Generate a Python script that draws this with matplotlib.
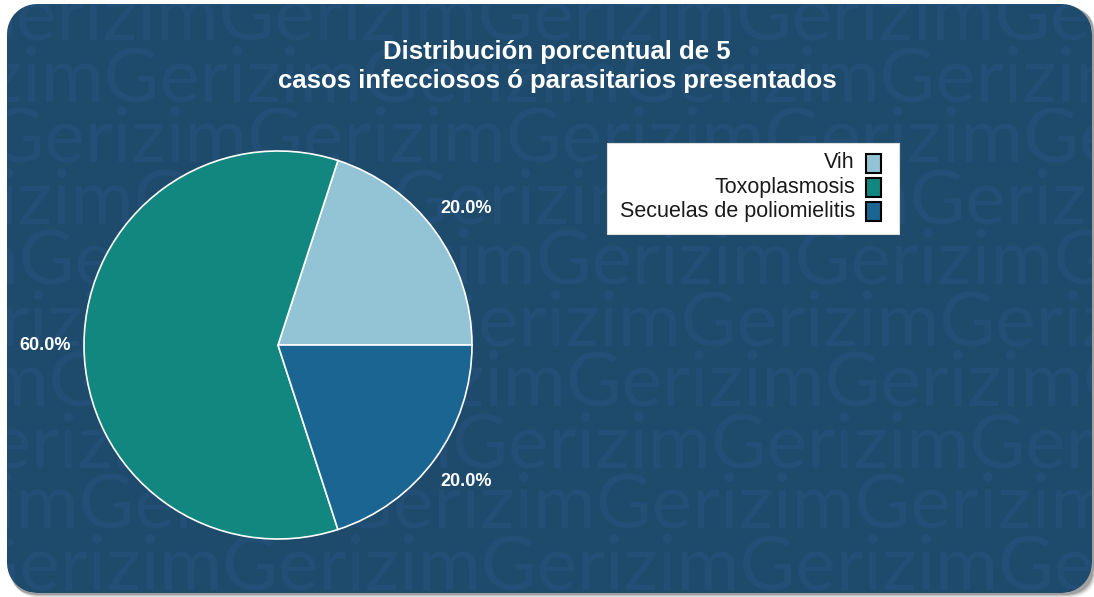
import matplotlib
matplotlib.use('Agg')
import matplotlib.pyplot as plt
import numpy as np
from matplotlib.patches import FancyBboxPatch, Rectangle, PathPatch
from matplotlib.path import Path

plt.rcParams['font.family'] = ['Liberation Sans', 'DejaVu Sans']

categories = ['Vih', 'Toxoplasmosis', 'Secuelas de poliomielitis']
values = [20.0, 60.0, 20.0]
colors = ['#93c4d6', '#12877f', '#1b6592']
title_lines = ['Distribución porcentual de 5',
               'casos infecciosos ó parasitarios presentados']
watermark = 'Gerizim'

W, H = 1094, 597
fig = plt.figure(figsize=(W / 100, H / 100), dpi=100)
fig.patch.set_facecolor('white')

bg = fig.add_axes([0, 0, 1, 1])
bg.set_xlim(0, W)
bg.set_ylim(H, 0)
bg.axis('off')

CX0, CY0, CW, CH, RAD = 7, 4, 1085, 589, 30


def rounded_rect_vertices(x0, y0, w, h, r, ccw=False):
    pts = []
    corners = [(x0 + w - r, y0 + r, -90, 0), (x0 + w - r, y0 + h - r, 0, 90),
               (x0 + r, y0 + h - r, 90, 180), (x0 + r, y0 + r, 180, 270)]
    for ccx, ccy, a0, a1 in corners:
        for a in np.linspace(a0, a1, 12):
            t = np.radians(a)
            pts.append((ccx + r * np.cos(t), ccy + r * np.sin(t)))
    if ccw:
        pts = pts[::-1]
    return pts


card = FancyBboxPatch((CX0, CY0), CW, CH,
                      boxstyle='round,pad=0,rounding_size=%d' % RAD,
                      facecolor='#1e4a6b', edgecolor='none', zorder=0.5)
bg.add_patch(card)

# watermark
row_y = [40 + 61 * k for k in range(10)]
for k, y in enumerate(row_y):
    x0 = -((k * 115) % 260) - 40
    bg.text(x0, y, watermark * 7, fontsize=55, color='#234f76',
            family='Lato', va='baseline', ha='left', zorder=0.6, clip_on=True)

# white mask outside the rounded card
outer = [(-20, -20), (W + 20, -20), (W + 20, H + 20), (-20, H + 20)]
inner = rounded_rect_vertices(CX0, CY0, CW, CH, RAD, ccw=True)
verts = outer + [outer[0]] + inner + [inner[0]]
codes = ([Path.MOVETO] + [Path.LINETO] * 3 + [Path.CLOSEPOLY] +
         [Path.MOVETO] + [Path.LINETO] * (len(inner) - 1) + [Path.CLOSEPOLY])
mask = PathPatch(Path(verts, codes), facecolor='white', edgecolor='none', zorder=0.7)
bg.add_patch(mask)

# shadow outside the card (bottom-right)
for i, a in enumerate([0.05, 0.08, 0.12, 0.18]):
    off = 5 - i
    sh = FancyBboxPatch((CX0 + off, CY0 + off), CW, CH,
                        boxstyle='round,pad=0,rounding_size=%d' % RAD,
                        facecolor='black', edgecolor='none', alpha=a, zorder=0.8)
    bg.add_patch(sh)
    sh.set_clip_path(mask)

# title
bg.text(557, 52, title_lines[0], ha='center', va='center', fontsize=18.5,
        fontweight='bold', color='white', zorder=5)
bg.text(557, 81, title_lines[1], ha='center', va='center', fontsize=18.5,
        fontweight='bold', color='white', zorder=5)

# pie
cx, cy, R = 278, 345, 194
ax = fig.add_axes([(cx - R) / W, 1 - (cy + R) / H, 2 * R / W, 2 * R / H])
ax.pie(values, colors=colors, startangle=0, counterclock=True,
       wedgeprops=dict(edgecolor='white', linewidth=1.2),
       autopct='%1.1f%%', pctdistance=1.2,
       textprops=dict(color='white', fontsize=13, fontweight='bold'))
ax.set_xlim(-1, 1)
ax.set_ylim(-1, 1)
ax.axis('off')

# legend
bg.add_patch(Rectangle((607, 143), 292, 91, facecolor='white',
                       edgecolor='#dddddd', lw=0.8, zorder=4))
for i, (lab, col) in enumerate(zip(categories, colors)):
    y = 163 + 24 * i
    bg.text(855, y, lab, ha='right', va='center', fontsize=15.5, color='#1a1a1a', zorder=5)
    bg.add_patch(Rectangle((866, y - 9.5), 15, 19, facecolor=col,
                           edgecolor='black', lw=1.5, zorder=5))

fig.savefig('out.png', dpi=100, facecolor='white')
